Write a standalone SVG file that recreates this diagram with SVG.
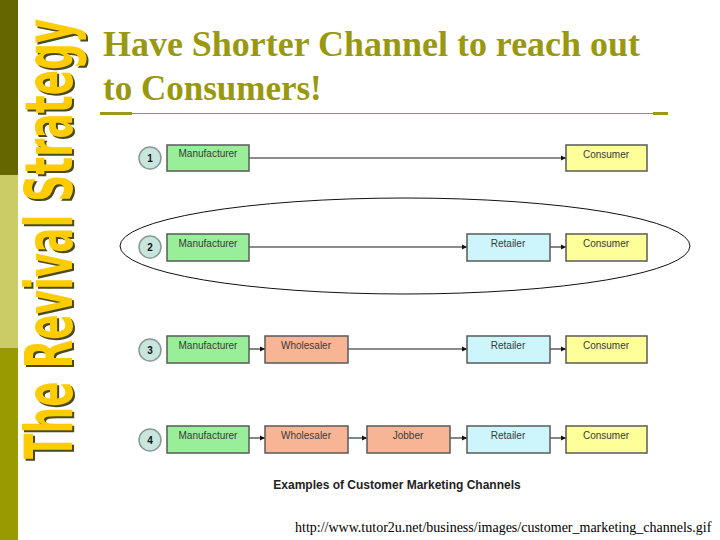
<svg xmlns="http://www.w3.org/2000/svg" width="720" height="540" viewBox="0 0 720 540">
<style>
.box{stroke:#5a5a5a;stroke-width:1.5}
.mf{fill:#99ee99}.wh{fill:#f7b595}.rt{fill:#ccf6fb}.cs{fill:#ffff99}
.bt{font-family:"Liberation Sans",Arial,sans-serif;font-size:10px;fill:#3a3a3a;text-anchor:middle}
.num{font-family:"Liberation Sans",Arial,sans-serif;font-size:10px;font-weight:bold;fill:#111;text-anchor:middle}
.circ{fill:#c9e6de;stroke:#8a9a98;stroke-width:1.5}
.con{stroke:#666;stroke-width:1.6;fill:none;marker-end:url(#ah)}
.vt{font-family:"DejaVu Sans Condensed","DejaVu Sans",sans-serif;font-weight:bold;font-size:66px}
</style>
<defs>
<marker id="ah" markerWidth="6" markerHeight="6" refX="5" refY="3" orient="auto" markerUnits="userSpaceOnUse">
<path d="M0,0.5 L5,3 L0,5.5 Z" fill="#111"/>
</marker>
</defs>
<rect width="720" height="540" fill="#fff"/>
<g id="sidebar">
<rect x="0" y="0" width="18" height="175" fill="#666600"/>
<rect x="0" y="175" width="18" height="173" fill="#cccc66"/>
<rect x="0" y="348" width="18" height="192" fill="#999900"/>
<g transform="translate(74,461) rotate(-90) scale(0.63,1)">
<text class="vt" x="0" y="0" fill="#4a4a22">The Revival Strategy</text>
</g>
<g transform="translate(72,459) rotate(-90) scale(0.63,1)">
<text class="vt" x="0" y="0" fill="#ffcc00">The Revival Strategy</text>
</g>
</g>
<g id="title" font-family="'Liberation Serif','Times New Roman',serif" font-weight="bold" font-size="35" fill="#999911">
<text x="103" y="56" textLength="537" lengthAdjust="spacingAndGlyphs">Have Shorter Channel to reach out</text>
<text x="103" y="100">to Consumers!</text>
</g>
<g id="rule">
<line x1="100" y1="113.5" x2="668" y2="113.5" stroke="#999922" stroke-width="1.2"/>
<rect x="100" y="112" width="32" height="3" fill="#999922"/>
<rect x="653" y="112" width="15" height="3" fill="#999922"/>
</g>
<g id="connectors">
<line class="con" x1="249" y1="158" x2="566" y2="158"/>
<line class="con" x1="249" y1="247" x2="467" y2="247"/>
<line class="con" x1="550" y1="247" x2="566" y2="247"/>
<line class="con" x1="249" y1="349" x2="265" y2="349"/>
<line class="con" x1="348" y1="349" x2="467" y2="349"/>
<line class="con" x1="550" y1="349" x2="566" y2="349"/>
<line class="con" x1="249" y1="438" x2="265" y2="438"/>
<line class="con" x1="348" y1="438" x2="367" y2="438"/>
<line class="con" x1="450" y1="438" x2="467" y2="438"/>
<line class="con" x1="550" y1="438" x2="566" y2="438"/>
</g>
<g id="highlight">
<ellipse cx="405" cy="246" rx="285" ry="48" fill="none" stroke="#111" stroke-width="1"/>
</g>
<g id="row1">
<g id="n1"><circle class="circ" cx="150" cy="158" r="11"/><text class="num" x="150" y="162">1</text></g>
<g id="r1-mf"><rect class="box mf" x="167" y="145" width="82" height="26"/><text class="bt" x="208" y="157">Manufacturer</text></g>
<g id="r1-cs"><rect class="box cs" x="566" y="145" width="81" height="26"/><text class="bt" x="606" y="158">Consumer</text></g>
</g>
<g id="row2">
<g id="n2"><circle class="circ" cx="150" cy="247" r="11"/><text class="num" x="150" y="251">2</text></g>
<g id="r2-mf"><rect class="box mf" x="167" y="234" width="82" height="27"/><text class="bt" x="208" y="247">Manufacturer</text></g>
<g id="r2-rt"><rect class="box rt" x="467" y="234" width="83" height="27"/><text class="bt" x="508" y="247">Retailer</text></g>
<g id="r2-cs"><rect class="box cs" x="566" y="234" width="81" height="27"/><text class="bt" x="606" y="247">Consumer</text></g>
</g>
<g id="row3">
<g id="n3"><circle class="circ" cx="150" cy="350" r="11"/><text class="num" x="150" y="354">3</text></g>
<g id="r3-mf"><rect class="box mf" x="167" y="336" width="82" height="27"/><text class="bt" x="208" y="349">Manufacturer</text></g>
<g id="r3-wh"><rect class="box wh" x="265" y="336" width="83" height="27"/><text class="bt" x="306" y="349">Wholesaler</text></g>
<g id="r3-rt"><rect class="box rt" x="467" y="336" width="83" height="27"/><text class="bt" x="508" y="349">Retailer</text></g>
<g id="r3-cs"><rect class="box cs" x="566" y="336" width="81" height="27"/><text class="bt" x="606" y="349">Consumer</text></g>
</g>
<g id="row4">
<g id="n4"><circle class="circ" cx="150" cy="440" r="11"/><text class="num" x="150" y="444">4</text></g>
<g id="r4-mf"><rect class="box mf" x="167" y="426" width="82" height="27"/><text class="bt" x="208" y="439">Manufacturer</text></g>
<g id="r4-wh"><rect class="box wh" x="265" y="426" width="83" height="27"/><text class="bt" x="306" y="439">Wholesaler</text></g>
<g id="r4-jb"><rect class="box wh" x="367" y="426" width="83" height="27"/><text class="bt" x="408" y="439">Jobber</text></g>
<g id="r4-rt"><rect class="box rt" x="467" y="426" width="83" height="27"/><text class="bt" x="508" y="439">Retailer</text></g>
<g id="r4-cs"><rect class="box cs" x="566" y="426" width="81" height="27"/><text class="bt" x="606" y="439">Consumer</text></g>
</g>
<text x="397" y="489" text-anchor="middle" font-family="'Liberation Sans',Arial,sans-serif" font-weight="bold" font-size="12" fill="#222">Examples of Customer Marketing Channels</text>
<text x="295" y="532" font-family="'Liberation Serif','Times New Roman',serif" font-size="14" fill="#000">http://www.tutor2u.net/business/images/customer_marketing_channels.gif</text>
</svg>
